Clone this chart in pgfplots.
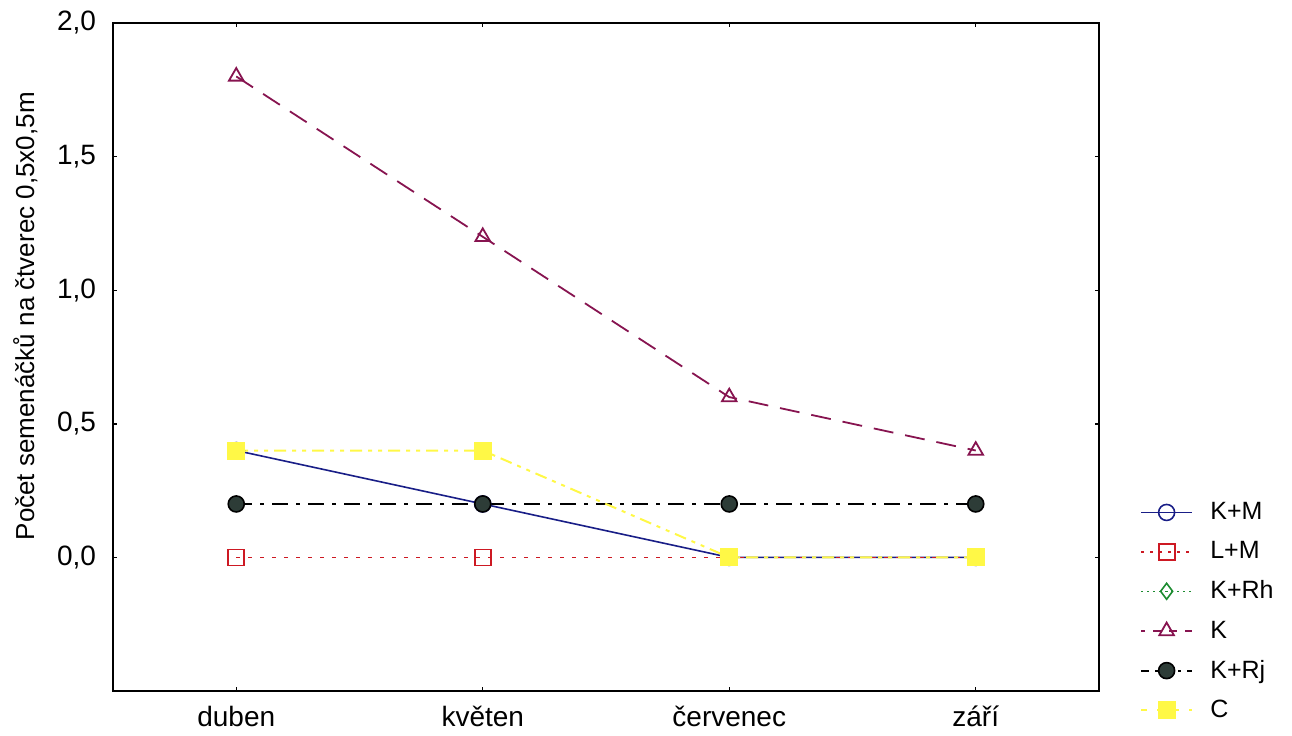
\documentclass[border=0pt]{standalone}
\usepackage{pgfplots}
\pgfplotsset{compat=1.18}
\usepackage{fontspec}
\setmainfont{Liberation Sans}
\definecolor{cKM}{RGB}{25,30,135}
\definecolor{cLM}{RGB}{205,25,35}
\definecolor{cKRh}{RGB}{30,140,50}
\definecolor{cK}{RGB}{135,20,80}
\definecolor{cKRjfill}{RGB}{45,60,55}
\definecolor{cC}{RGB}{255,248,70}
\begin{document}
\begin{tikzpicture}
\begin{axis}[
  name=ax,
  scale only axis,
  width=493pt, height=334pt,
  xmin=-0.5, xmax=3.5,
  ymin=-0.5, ymax=2,
  xtick={0,1,2,3},
  xticklabels={duben,květen,červenec,září},
  ytick={0,0.5,1,1.5,2},
  tick align=inside,
  major tick length=2pt,
  axis line style={line width=0.9pt},
  every tick/.style={black,line width=0.7pt},
  /pgf/number format/use comma,
  /pgf/number format/fixed,
  /pgf/number format/fixed zerofill,
  /pgf/number format/precision=1,
  /pgf/number format/assume math mode=true,
  ticklabel style={font=\fontsize{14}{16}\selectfont},
  yticklabel style={xshift=-5pt},
  xticklabel style={yshift=-4pt},
  ylabel={Počet semenáčků na čtverec 0,5x0,5m},
  ylabel style={at={(axis description cs:-0.089,0.561)},anchor=center,font=\fontsize{13}{15}\selectfont},
  legend style={at={(axis description cs:1.035,0.295)},anchor=north west,draw=none,fill=none,
    font=\fontsize{12.5}{14}\selectfont,row sep=5.5pt,column sep=4.5pt,
    nodes={inner xsep=4pt}},
  legend cell align=left,
  legend image code/.code={
    \draw[mark repeat=2,mark phase=2] plot coordinates {(0cm,0cm)(0.45cm,0cm)(0.9cm,0cm)};},
  mark size=4pt,
]
% K+M
\addplot[forget plot, cKM, line width=0.8pt, mark=o, mark options={solid,fill=white,line width=0.8pt}]
  coordinates {(0,0.4) (1,0.2) (2,0) (3,0)};
% L+M
\addplot[forget plot, cLM, line width=0.9pt, dash pattern=on 2pt off 4pt, mark=square, mark options={solid,line width=0.9pt}]
  coordinates {(0,0) (1,0) (2,0) (3,0)};
% K
\addplot[forget plot, cK, line width=0.9pt, dash pattern=on 10pt off 6pt, mark=triangle, mark size=4.2pt, mark options={solid,line width=0.9pt}]
  coordinates {(0,1.8) (1,1.2) (2,0.6) (3,0.4)};
% K+Rj
\addplot[forget plot, black, line width=1.1pt, dash pattern=on 8pt off 4pt on 2pt off 4pt, mark=*, mark options={solid,fill=cKRjfill,draw=black,line width=0.8pt}]
  coordinates {(0,0.2) (1,0.2) (2,0.2) (3,0.2)};
% C
\addplot[forget plot, cC, line width=1pt, dash pattern=on 6pt off 3pt on 2pt off 3pt on 2pt off 3pt, mark=square*, mark options={solid,fill=cC,draw=cC}]
  coordinates {(0,0.4) (1,0.4) (2,0) (3,0)};

\addlegendimage{cKM, line width=0.8pt, mark=o, mark options={solid,fill=white,line width=0.8pt}}
\addlegendentry{K+M}
\addlegendimage{cLM, line width=0.9pt, dash pattern=on 1.5pt off 3pt, mark=square, mark options={solid,line width=0.9pt}}
\addlegendentry{L+M}
\addlegendimage{cKRh, line width=0.8pt, dash pattern=on 1pt off 2pt, mark=diamond, mark size=4pt, mark options={solid,line width=0.8pt}}
\addlegendentry{K+Rh}
\addlegendimage{cK, line width=0.9pt, dash phase=2pt, dash pattern=on 4pt off 4pt, mark=triangle, mark size=4.2pt, mark options={solid,line width=0.9pt}}
\addlegendentry{K}
\addlegendimage{black, line width=1.1pt, dash pattern=on 4pt off 3pt on 1.5pt off 3pt, mark=*, mark options={solid,fill=cKRjfill,draw=black,line width=0.8pt}}
\addlegendentry{K+Rj}
\addlegendimage{cC, line width=1pt, dash pattern=on 3pt off 5pt, mark=square*, mark options={solid,fill=cC,draw=cC}}
\addlegendentry{C}
\end{axis}
\pgfresetboundingbox
\path (ax.south west) ++(-56.5pt,-22pt) rectangle ++(646pt,367.5pt);
\end{tikzpicture}
\end{document}
